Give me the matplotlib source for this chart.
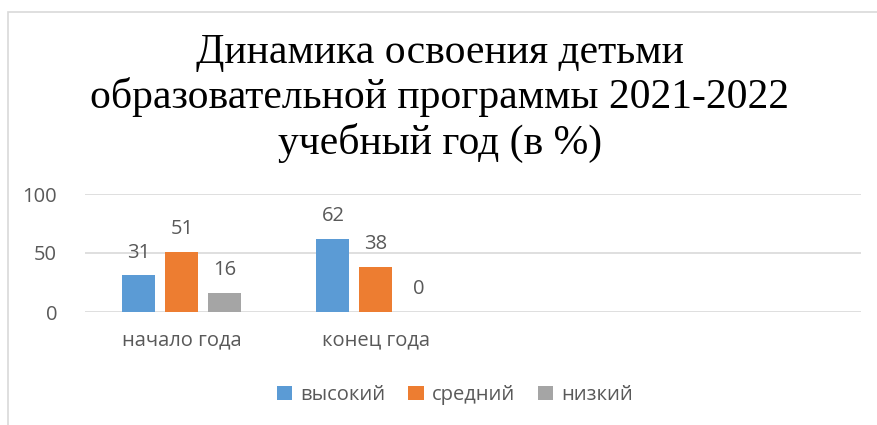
import matplotlib
matplotlib.use('agg')
import matplotlib.pyplot as plt
import numpy as np
from matplotlib.patches import Rectangle

categories = ['начало года', 'конец года', '', '']
series_names = ['высокий', 'средний', 'низкий']
high = [31, 62]
mid = [51, 38]
low = [16, 0]
colors = ['#5B9BD5', '#ED7D31', '#A5A5A5']
title = 'Динамика освоения детьми\nобразовательной программы 2021-2022\nучебный год (в %)'

W, H = 878, 425
fig = plt.figure(figsize=(W / 100, H / 100), dpi=100)
fig.patch.set_facecolor('white')

# outer chart frame (only top and left edges visible)
fig.add_artist(Rectangle((8 / W, -0.1), 1.2, (H - 12) / H + 0.1, transform=fig.transFigure,
                         fill=False, edgecolor='#D9D9D9', linewidth=1.2))

ax = fig.add_axes([85 / W, (H - 312) / H, (861 - 85) / W, (312 - 194) / H])
sans = ['Open Sans', 'DejaVu Sans']
text_col = '#595959'
fs = 14.5

x = np.arange(len(categories))
off = 43 / 194
bw = 33 / 194
for i, (vals, name, col) in enumerate(zip([high, mid, low], series_names, colors)):
    xs = x[:len(vals)] + (i - 1) * off
    ax.bar(xs, vals, width=bw, color=col, label=name, zorder=3)
    for xi, v in zip(xs, vals):
        ax.annotate(str(v), (xi, v), xytext=(0, 16.5), textcoords='offset points',
                    ha='center', va='center', fontsize=fs, color=text_col, family=sans)

ax.set_xlim(-0.5, len(categories) - 0.5)
ax.set_ylim(0, 100)
ax.set_yticks([0, 50, 100])
ax.set_xticks(x)
ax.set_xticklabels(categories)
ax.grid(axis='y', color='#D9D9D9', linewidth=1.2, zorder=0)
for s in ax.spines.values():
    s.set_visible(False)
ax.tick_params(length=0, labelsize=fs, labelcolor=text_col)
ax.tick_params(axis='x', pad=13)
ax.tick_params(axis='y', pad=20)
for lab in ax.get_xticklabels() + ax.get_yticklabels():
    lab.set_family(sans)

fig.text(440 / W, 1 - 98 / H, title, ha='center', va='center', fontsize=30,
         family='Liberation Serif', color='black', linespacing=1.18)

fig.legend(loc='center', bbox_to_anchor=(455 / W, 1 - 395 / H), ncol=3, frameon=False,
           prop={'family': sans, 'size': fs}, handlelength=0.75, handleheight=0.75,
           handletextpad=0.4, columnspacing=1.15, labelcolor=text_col)

fig.savefig('out.png', dpi=100, facecolor='white')
